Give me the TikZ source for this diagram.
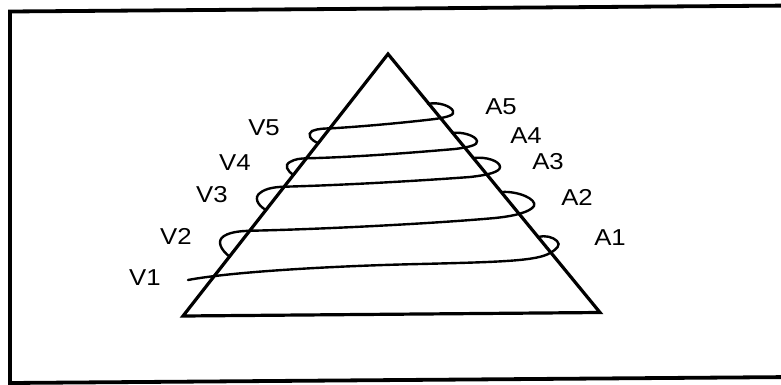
\documentclass[tikz,border=0pt]{standalone}
\usepackage{fontspec}
\usepackage{graphicx}
\setmainfont{Liberation Sans}
\newcommand{\lbl}[1]{\scalebox{1.12}[1]{#1}}
\tikzset{
  frameline/.style={line width=3.8pt, line join=miter},
  pyramid/.style={line width=3.2pt, line join=miter},
  spiral/.style={line width=2.4pt, line cap=round},
  lab/.style={font=\fontsize{23}{23}\selectfont, inner sep=0pt}
}
\begin{document}
\begin{tikzpicture}[x=1pt,y=-1pt]
\useasboundingbox (0,0) rectangle (781,385);
\clip (0,0) rectangle (781,385);
\fill[white] (0,0) rectangle (781,385);
% frame (open on the right, slightly tilted like the scan)
\draw[frameline] (795,5.5) -- (10,11.5) -- (10,383) -- (795,377);
% pyramid
\coordinate (apex) at (388,54);
\coordinate (bl) at (183,316);
\coordinate (br) at (600,312.5);
\draw[pyramid] (apex) -- (bl) -- (br) -- cycle;
% spiral, level by level
\coordinate (s1) at (188,280);
\draw[spiral] (s1) .. controls (230,272) and (330,266) .. (420,264)
  .. controls (500,262) and (537,261) .. (550,253)
  .. controls (557,249) and (561,245) .. (557,241)
  .. controls (553,237) and (545,235) .. (538,237);
\draw[spiral] (229.7,256.7) .. controls (221,250) and (216,241) .. (224,236)
  .. controls (232,231) and (245,231) .. (252,230.7)
  .. controls (330,229) and (440,223) .. (495,218)
  .. controls (515,216) and (530,212) .. (534,206)
  .. controls (537,199) and (518,191) .. (502,192);
\draw[spiral] (266,210) .. controls (257,205) and (254,197) .. (260,193)
  .. controls (266,188) and (276,187) .. (284,186.7)
  .. controls (350,185) and (430,180) .. (470,177)
  .. controls (488,175) and (500,172) .. (500,167)
  .. controls (500,161) and (486,156.5) .. (474,158);
\draw[spiral] (293.7,175) .. controls (287,171) and (284,165) .. (290,162)
  .. controls (295,159) and (300,158.5) .. (307,158.3)
  .. controls (360,157) and (420,152) .. (455,149)
  .. controls (470,147) and (478,145) .. (477,141)
  .. controls (476,136) and (463,131.5) .. (452,133);
\draw[spiral] (318.6,143.3) .. controls (310,140) and (307,134) .. (312,131)
  .. controls (318,128.5) and (325,128.5) .. (332,128.3)
  .. controls (370,126) and (410,122) .. (435,119)
  .. controls (448,117) and (455,115) .. (453,111)
  .. controls (451,106) and (438,101.5) .. (428,104);
% labels
\node[lab] (V1) at (145,278) {\lbl{V1}};
\node[lab] (V2) at (176,236.5) {\lbl{V2}};
\node[lab] (V3) at (212,194.5) {\lbl{V3}};
\node[lab] (V4) at (235,162.5) {\lbl{V4}};
\node[lab] (V5) at (264,128) {\lbl{V5}};
\node[lab] (A1) at (610,237.5) {\lbl{A1}};
\node[lab] (A2) at (577,197) {\lbl{A2}};
\node[lab] (A3) at (548,162) {\lbl{A3}};
\node[lab] (A4) at (526,135.5) {\lbl{A4}};
\node[lab] (A5) at (501,107) {\lbl{A5}};
\end{tikzpicture}
\end{document}
